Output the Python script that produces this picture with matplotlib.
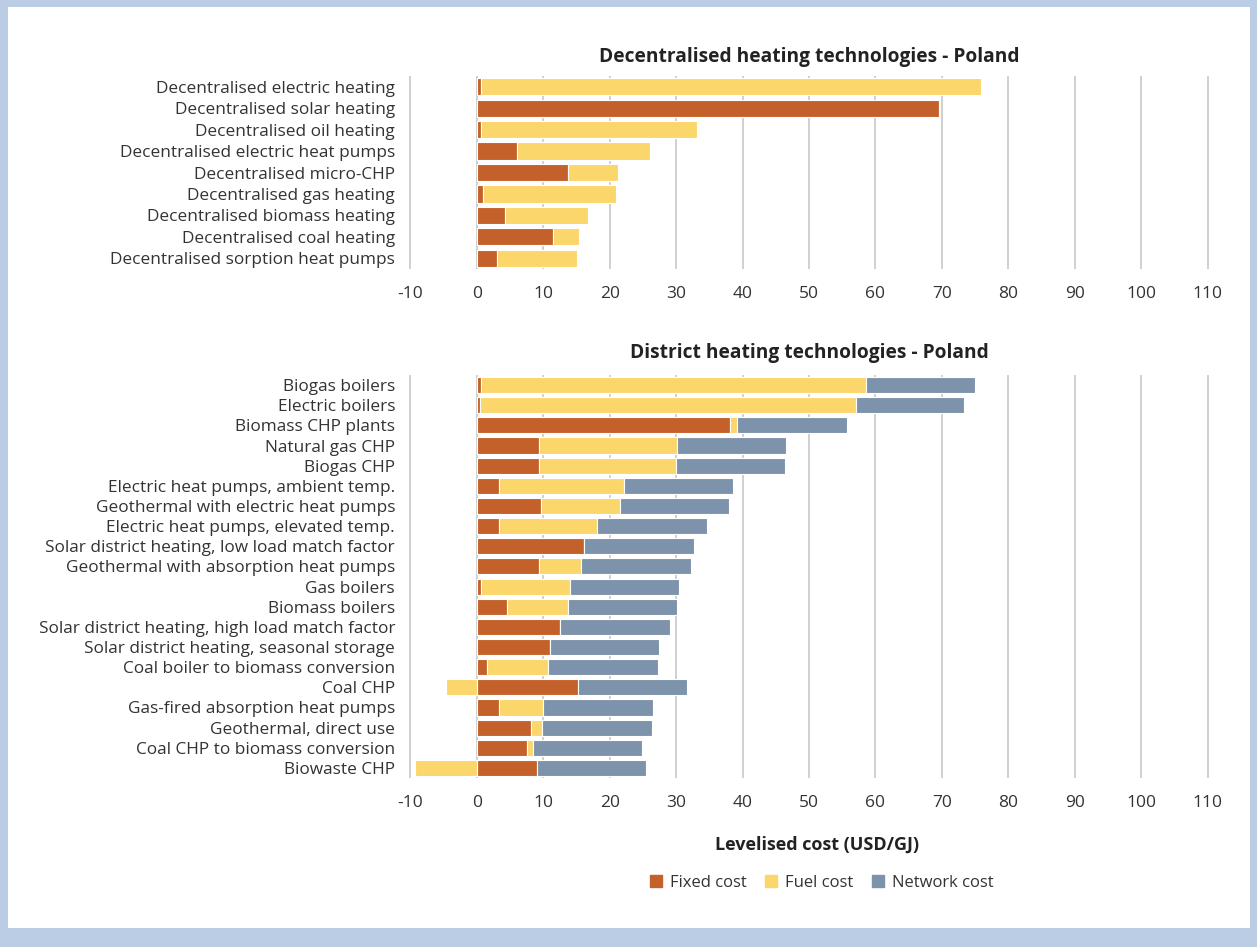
import numpy as np
import matplotlib
matplotlib.use("Agg")
import matplotlib.pyplot as plt
from matplotlib.patches import Rectangle, Patch

plt.rcParams['font.family'] = ['Open Sans', 'DejaVu Sans']
plt.rcParams['axes.unicode_minus'] = False

# colours
FIXED = "#c4612a"
FUEL = "#fbd66b"
NETWORK = "#7d93ab"
TEXT = "#333333"

# decentralised heating data (USD/GJ)
dec_labels = ["Decentralised electric heating", "Decentralised solar heating",
              "Decentralised oil heating", "Decentralised electric heat pumps",
              "Decentralised micro-CHP", "Decentralised gas heating",
              "Decentralised biomass heating", "Decentralised coal heating",
              "Decentralised sorption heat pumps"]
dec_fixed = [0.6, 69.6, 0.6, 6.1, 13.7, 1.0, 4.2, 11.4, 3.1]
dec_fuel = [75.3, 0.0, 32.6, 19.9, 7.6, 20.0, 12.6, 4.0, 12.0]

# district heating data (USD/GJ)
dh_labels = ["Biogas boilers", "Electric boilers", "Biomass CHP plants",
             "Natural gas CHP", "Biogas CHP", "Electric heat pumps, ambient temp.",
             "Geothermal with electric heat pumps", "Electric heat pumps, elevated temp.",
             "Solar district heating, low load match factor",
             "Geothermal with absorption heat pumps", "Gas boilers", "Biomass boilers",
             "Solar district heating, high load match factor",
             "Solar district heating, seasonal storage",
             "Coal boiler to biomass conversion", "Coal CHP",
             "Gas-fired absorption heat pumps", "Geothermal, direct use",
             "Coal CHP to biomass conversion", "Biowaste CHP"]
dh_fixed = [0.6, 0.45, 38.1, 9.4, 9.4, 3.4, 9.6, 3.4, 16.2, 9.4,
            0.6, 4.6, 12.6, 11.0, 1.6, 15.2, 3.3, 8.1, 7.5, 9.0]
dh_fuel = [58.0, 56.55, 1.1, 20.7, 20.6, 18.7, 11.9, 14.7, 0.0, 6.3,
           13.5, 9.1, 0.0, 0.0, 9.1, -4.6, 6.7, 1.7, 0.9, -9.3]
dh_network = [16.4, 16.4, 16.5, 16.5, 16.4, 16.5, 16.5, 16.5, 16.5, 16.5,
              16.4, 16.4, 16.5, 16.5, 16.5, 16.5, 16.5, 16.5, 16.4, 16.5]

xticks = list(range(-10, 111, 10))


def draw_panel(ax, labels, fixed, fuel, network, title, title_pad):
    fixed = np.array(fixed)
    fuel = np.array(fuel)
    y = np.arange(len(labels))
    kw = dict(height=0.8, edgecolor="white", linewidth=0.8, zorder=3)
    ax.barh(y, fixed, color=FIXED, **kw)
    # negative fuel goes left from zero, positive stacks on fixed
    fuel_left = np.where(fuel >= 0, fixed, 0)
    ax.barh(y, fuel, left=fuel_left, color=FUEL, **kw)
    if network is not None:
        net_left = fixed + np.clip(fuel, 0, None)
        ax.barh(y, network, left=net_left, color=NETWORK, **kw)
    ax.set_ylim(len(labels) - 0.5, -0.5)
    ax.set_xlim(-10.2, 110.2)
    ax.set_xticks(xticks)
    ax.set_yticks(y)
    ax.set_yticklabels(labels)
    ax.grid(axis="x", color="#c8c8c8", linewidth=1.2, zorder=0)
    for s in ax.spines.values():
        s.set_visible(False)
    ax.tick_params(axis="x", length=0, pad=12, labelsize=12.5, labelcolor=TEXT)
    ax.tick_params(axis="y", length=0, pad=10, labelsize=12.4, labelcolor=TEXT)
    ax.set_title(title, fontsize=13.8, fontweight="bold", color="#222222", pad=title_pad)


fig = plt.figure(figsize=(12.57, 9.47), dpi=100)
fig.patch.set_facecolor("#bacde4")
fig.patches.append(Rectangle((8 / 1257, 1 - 928 / 947), 1242 / 1257, 921 / 947,
                             transform=fig.transFigure, facecolor="white",
                             edgecolor="none", zorder=-10))

ax1 = fig.add_axes([409 / 1257, 1 - 269 / 947, 800 / 1257, 193 / 947])
ax2 = fig.add_axes([409 / 1257, 1 - 778 / 947, 800 / 1257, 403 / 947])
for a in (ax1, ax2):
    a.patch.set_alpha(0)

draw_panel(ax1, dec_labels, dec_fixed, dec_fuel, None,
           "Decentralised heating technologies - Poland", 10)
draw_panel(ax2, dh_labels, dh_fixed, dh_fuel, dh_network,
           "District heating technologies - Poland", 12)

fig.text(817 / 1257, 1 - 845 / 947, "Levelised cost (USD/GJ)", ha="center",
         va="center", fontsize=13, fontweight="bold", color="#222222")

handles = [Patch(color=FIXED, label="Fixed cost"),
           Patch(color=FUEL, label="Fuel cost"),
           Patch(color=NETWORK, label="Network cost")]
leg = fig.legend(handles=handles, loc="center", bbox_to_anchor=(822 / 1257, 1 - 883 / 947),
                 ncol=3, frameon=False, handlelength=0.7, handleheight=0.7,
                 handletextpad=0.5, columnspacing=1.1, fontsize=12)
for t in leg.get_texts():
    t.set_color(TEXT)

fig.savefig("out.png", dpi=100, facecolor=fig.get_facecolor())
